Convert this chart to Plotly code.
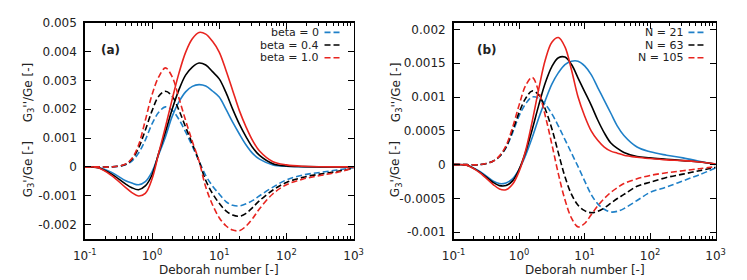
import numpy as np
import plotly.graph_objects as go

# Deborah numbers (log-spaced sample points)
deborah = [0.1, 0.1585, 0.2512, 0.3981, 0.5012, 0.631, 0.7943, 1.0, 1.259, 1.585,
           1.995, 2.512, 3.162, 3.981, 5.012, 6.31, 7.943, 10.0, 12.59, 15.85,
           19.95, 25.12, 31.62, 39.81, 63.1, 100.0, 177.8, 316.2, 562.3, 1000.0]

# Panel (a): values in units of 1e-3
a_loss_b0 = [0, -0.02, -0.19, -0.47, -0.56, -0.62, -0.51, -0.17, 0.43, 1.04, 1.75, 2.25, 2.60, 2.79, 2.85, 2.80,
             2.63, 2.42, 2.00, 1.55, 1.14, 0.76, 0.46, 0.27, 0.07, 0.02, 0.005, 0, 0, 0]
a_loss_b04 = [0, -0.03, -0.25, -0.58, -0.72, -0.79, -0.66, -0.28, 0.48, 1.21, 2.0, 2.67, 3.18, 3.46, 3.60, 3.53,
              3.30, 3.05, 2.58, 2.00, 1.48, 1.04, 0.66, 0.40, 0.11, 0.03, 0.01, 0, 0, 0]
a_loss_b10 = [0, -0.03, -0.30, -0.70, -0.89, -1.01, -0.92, -0.42, 0.48, 1.38, 2.34, 3.24, 3.97, 4.44, 4.66, 4.60,
              4.35, 3.98, 3.35, 2.65, 1.95, 1.38, 0.90, 0.55, 0.18, 0.07, 0.02, 0.005, 0, 0]
a_stor_b0 = [0, 0, 0, 0.07, 0.20, 0.48, 0.93, 1.49, 1.89, 2.08, 1.96, 1.65, 1.21, 0.72, 0.20, -0.30,
             -0.66, -0.94, -1.20, -1.33, -1.35, -1.28, -1.16, -1.00, -0.70, -0.45, -0.28, -0.19, -0.11, -0.03]
a_stor_b04 = [0, 0, 0, 0.08, 0.26, 0.65, 1.27, 1.94, 2.45, 2.62, 2.45, 1.97, 1.38, 0.80, 0.20, -0.47,
              -0.92, -1.26, -1.52, -1.67, -1.71, -1.61, -1.40, -1.17, -0.80, -0.54, -0.36, -0.25, -0.16, -0.04]
a_stor_b10 = [0, 0, 0, 0.09, 0.29, 0.76, 1.61, 2.50, 3.12, 3.43, 3.12, 2.39, 1.61, 0.88, 0.20, -0.70,
              -1.31, -1.76, -2.04, -2.19, -2.21, -2.05, -1.78, -1.45, -0.93, -0.62, -0.42, -0.30, -0.19, -0.04]

# Panel (b): values in units of 1e-3
b_loss_n21 = [0, -0.01, -0.10, -0.24, -0.28, -0.27, -0.21, -0.07, 0.14, 0.40, 0.69, 0.95, 1.19, 1.36, 1.48, 1.53,
              1.53, 1.46, 1.33, 1.14, 0.95, 0.76, 0.57, 0.43, 0.26, 0.19, 0.14, 0.10, 0.05, 0.0]
b_loss_n63 = [0, -0.01, -0.11, -0.26, -0.31, -0.31, -0.24, -0.07, 0.19, 0.52, 0.88, 1.21, 1.45, 1.58, 1.59, 1.48,
              1.28, 1.08, 0.88, 0.66, 0.47, 0.32, 0.24, 0.18, 0.12, 0.10, 0.08, 0.06, 0.04, 0.01]
b_loss_n105 = [0, -0.01, -0.12, -0.29, -0.36, -0.37, -0.29, -0.10, 0.21, 0.64, 1.12, 1.55, 1.81, 1.88, 1.74, 1.40,
               1.00, 0.72, 0.50, 0.36, 0.26, 0.20, 0.17, 0.14, 0.11, 0.09, 0.07, 0.06, 0.04, 0.01]
b_stor_n21 = [0, 0, 0, 0.05, 0.12, 0.25, 0.47, 0.72, 0.90, 1.00, 0.98, 0.89, 0.75, 0.57, 0.37, 0.17,
              -0.03, -0.24, -0.44, -0.58, -0.66, -0.70, -0.69, -0.65, -0.53, -0.41, -0.33, -0.24, -0.15, -0.05]
b_stor_n63 = [0, 0, 0, 0.05, 0.12, 0.26, 0.50, 0.77, 0.98, 1.09, 1.03, 0.82, 0.53, 0.17, -0.18, -0.44,
              -0.60, -0.68, -0.71, -0.69, -0.64, -0.57, -0.50, -0.44, -0.32, -0.26, -0.19, -0.14, -0.09, -0.04]
b_stor_n105 = [0, 0, 0, 0.05, 0.13, 0.28, 0.55, 0.88, 1.17, 1.29, 1.08, 0.72, 0.30, -0.14, -0.52, -0.79,
               -0.92, -0.87, -0.74, -0.61, -0.50, -0.41, -0.34, -0.28, -0.21, -0.16, -0.12, -0.09, -0.06, -0.03]

a_labels = ["beta = 0", "beta = 0.4", "beta = 1.0"]
b_labels = ["N = 21", "N = 63", "N = 105"]
colors = ["#1f80c8", "#000000", "#e8241f"]

a_yticks = [-0.002, -0.001, 0, 0.001, 0.002, 0.003, 0.004, 0.005]
a_yticktext = ["-0.002", "-0.001", "0", "0.001", "0.002", "0.003", "0.004", "0.005"]
b_yticks = [-0.001, -0.0005, 0, 0.0005, 0.001, 0.0015, 0.002]
b_yticktext = ["-0.001", "-0.0005", "0", "0.0005", "0.001", "0.0015", "0.002"]
xticks = [0.1, 1, 10, 100, 1000]
xticktext = ["10<sup>-1</sup>", "10<sup>0</sup>", "10<sup>1</sup>", "10<sup>2</sup>", "10<sup>3</sup>"]

FONT = "DejaVu Sans"
W, H = 747, 280
DASH = "6px,3px"

fig = go.Figure()
milli = 1e-3

panels = [
    ("x", "y", [a_loss_b0, a_loss_b04, a_loss_b10], [a_stor_b0, a_stor_b04, a_stor_b10]),
    ("x2", "y2", [b_loss_n21, b_loss_n63, b_loss_n105], [b_stor_n21, b_stor_n63, b_stor_n105]),
]
for xa, ya, loss, stor in panels:
    for i in range(3):
        fig.add_trace(go.Scatter(x=deborah, y=np.array(loss[i]) * milli, mode="lines",
                                 line=dict(color=colors[i], width=1.6, shape="spline", smoothing=1.0),
                                 xaxis=xa, yaxis=ya, showlegend=False, hoverinfo="skip"))
        fig.add_trace(go.Scatter(x=deborah, y=np.array(stor[i]) * milli, mode="lines",
                                 line=dict(color=colors[i], width=1.6, dash=DASH, shape="spline", smoothing=1.0),
                                 xaxis=xa, yaxis=ya, showlegend=False, hoverinfo="skip"))

minor_vals = [m * 10.0 ** d for d in range(-1, 3) for m in range(2, 10)]

def xaxis_cfg(domain, anchor):
    return dict(type="log", range=[-1, 3], domain=domain, anchor=anchor,
                showline=True, linecolor="black", linewidth=1.5, mirror="ticks",
                ticks="inside", ticklen=6, tickwidth=1, tickcolor="black",
                tickvals=xticks, ticktext=xticktext, showgrid=False, zeroline=False,
                tickfont=dict(family=FONT, size=12, color="#222"), ticklabelstandoff=5,
                minor=dict(tickvals=minor_vals, ticks="inside", ticklen=3, tickwidth=1,
                           tickcolor="black", showgrid=False))

def yaxis_cfg(domain, anchor, rng, tv, tt):
    return dict(range=rng, domain=domain, anchor=anchor,
                showline=True, linecolor="black", linewidth=1.5, mirror="ticks",
                ticks="inside", ticklen=6, tickwidth=1, tickcolor="black",
                tickvals=tv, ticktext=tt, showgrid=False, zeroline=False,
                tickfont=dict(family=FONT, size=12, color="#222"), ticklabelstandoff=4)

ydom = [42 / H, 264 / H]
fig.update_layout(
    width=W, height=H, margin=dict(l=0, r=0, t=0, b=0),
    paper_bgcolor="white", plot_bgcolor="white",
    xaxis=xaxis_cfg([75 / W, 352 / W], "y"),
    yaxis=yaxis_cfg(ydom, "x", [-0.0025, 0.005], a_yticks, a_yticktext),
    xaxis2=xaxis_cfg([455 / W, 725 / W], "y2"),
    yaxis2=yaxis_cfg(ydom, "x2", [-0.0011, 0.0021], b_yticks, b_yticktext),
    showlegend=False,
)

ann = []
def txt(x, y, s, size=12, xanchor="center", angle=0, bold=False):
    ann.append(dict(x=x / W, y=1 - y / H, xref="paper", yref="paper", text=("<b>%s</b>" % s) if bold else s,
                    showarrow=False, xanchor=xanchor, yanchor="middle", textangle=angle,
                    font=dict(family=FONT, size=size, color="#222")))

# axis titles
txt(213, 270, "Deborah number [-]")
txt(590, 270, "Deborah number [-]")
for xp in (17, 396):
    txt(xp, 87, "G<sub>3</sub>''/Ge [-]", angle=-90)
    txt(xp, 166, "G<sub>3</sub>'/Ge [-]", angle=-90)
txt(101, 44, "(a)", bold=True)
txt(489, 44, "(b)", bold=True)

shapes = []
rows = [26, 39, 52]
for i in range(3):
    txt(318, rows[i], a_labels[i], size=11, xanchor="right")
    shapes.append(dict(type="line", xref="paper", yref="paper", x0=322 / W, x1=339 / W,
                       y0=1 - rows[i] / H, y1=1 - rows[i] / H,
                       line=dict(color=colors[i], width=1.6, dash=DASH)))
    txt(693, rows[i], b_labels[i], size=11, xanchor="right")
    shapes.append(dict(type="line", xref="paper", yref="paper", x0=697 / W, x1=714 / W,
                       y0=1 - rows[i] / H, y1=1 - rows[i] / H,
                       line=dict(color=colors[i], width=1.6, dash=DASH)))

fig.update_layout(annotations=ann, shapes=shapes)
fig.write_html("out.html", config={"displayModeBar": False, "staticPlot": True},
               post_script="document.body.style.margin='0';document.body.style.overflow='hidden';")
